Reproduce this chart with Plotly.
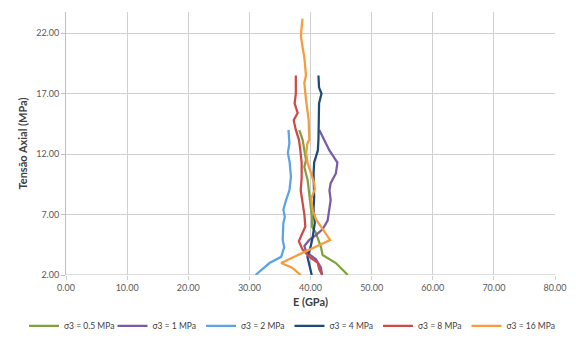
import plotly.graph_objects as go

names = ["σ3 = 0.5 MPa", "σ3 = 1 MPa", "σ3 = 2 MPa", "σ3 = 4 MPa", "σ3 = 8 MPa", "σ3 = 16 MPa"]
colors = ["#7FA23F", "#7A5BA5", "#5CA3E6", "#1F4A78", "#CC4B47", "#F79B3C"]

# each series: stress (MPa) and E (GPa)
s_05 = [2.0, 2.99, 3.65, 4.31, 5.47, 6.0, 6.79, 7.62, 8.45, 9.02, 9.85, 10.93, 11.5, 12.33, 13.16, 13.98]
e_05 = [46.1, 44.15, 41.98, 41.71, 40.89, 40.24, 40.24, 40.08, 39.91, 39.8, 39.53, 38.99, 39.26, 38.99, 38.72, 38.17]

s_1 = [2.0, 2.6, 3.3, 3.9, 4.4, 4.9, 5.3, 5.8, 6.5, 7.4, 8.2, 9.0, 9.6, 10.4, 11.3, 12.3, 13.2, 14.0]
e_1 = [41.9, 41.7, 40.9, 39.3, 39.0, 39.8, 40.9, 42.0, 42.8, 43.1, 43.3, 43.1, 43.3, 44.15, 44.4, 43.1, 42.25, 41.44]

s_2 = [2.0, 2.99, 3.5, 4.3, 4.9, 6.3, 6.8, 7.4, 8.2, 9.0, 10.1, 11.3, 12.1, 12.9, 14.0]
e_2 = [31.0, 33.3, 35.2, 35.7, 35.45, 35.56, 35.8, 35.56, 36.0, 36.55, 36.8, 36.6, 36.3, 36.55, 36.4]

s_4 = [2.0, 2.8, 3.5, 4.3, 5.1, 6.3, 7.5, 8.5, 9.6, 10.4, 11.3, 12.3, 13.2, 14.8, 15.4, 16.2, 17.0, 17.5, 18.5]
e_4 = [40.2, 39.8, 39.5, 40.0, 40.35, 40.7, 40.5, 40.6, 40.5, 40.5, 40.6, 41.2, 41.3, 41.3, 41.4, 41.4, 41.8, 41.4, 41.3]

s_8 = [2.0, 2.5, 3.0, 3.5, 4.1, 4.8, 5.5, 6.0, 7.0, 7.9, 9.0, 10.0, 11.3, 12.5, 13.2, 14.0, 14.8, 15.4, 16.2, 17.0, 18.5]
e_8 = [41.9, 41.4, 41.2, 39.8, 38.7, 38.1, 38.7, 39.15, 39.0, 38.7, 38.4, 38.55, 38.55, 38.3, 38.1, 37.6, 37.25, 37.9, 37.4, 37.6, 37.6]

s_16 = [2.0, 2.6, 3.0, 4.9, 5.8, 6.6, 7.4, 8.3, 9.1, 9.6, 10.4, 11.3, 12.1, 12.9, 13.2, 13.98, 14.8, 16.5, 17.9, 18.5, 20.0, 20.8, 21.7, 22.5, 23.2]
e_16 = [38.4, 37.0, 35.2, 43.2, 42.0, 40.9, 40.35, 40.1, 40.7, 40.6, 40.1, 39.5, 39.3, 39.5, 39.8, 39.7, 39.7, 39.26, 38.99, 39.26, 38.99, 38.72, 38.44, 38.55, 38.7]

series_s = [s_05, s_1, s_2, s_4, s_8, s_16]
series_e = [e_05, e_1, e_2, e_4, e_8, e_16]

x_ticks = [0, 10, 20, 30, 40, 50, 60, 70, 80]
y_ticks = [2, 7, 12, 17, 22]

fig = go.Figure()
for i, (n, c, s, e) in enumerate(zip(names, colors, series_s, series_e)):
    fig.add_trace(go.Scatter(x=e, y=s, mode="lines", name=n,
                             legend="legend" if i < 3 else "legend2",
                             line=dict(color=c, width=2.25)))

font = "Lato, 'Open Sans', sans-serif"
leg_common = dict(orientation="h", xref="container", yref="container",
                  y=0.005, yanchor="bottom", xanchor="left",
                  font=dict(size=8.5, color="#404040"), entrywidth=43.5,
                  itemwidth=30, tracegroupgap=0, bgcolor="rgba(0,0,0,0)")
fig.update_layout(
    width=576, height=342,
    margin=dict(l=66, r=21, t=12, b=67, autoexpand=False),
    paper_bgcolor="white", plot_bgcolor="white",
    font=dict(family=font, size=9, color="#595959"),
    showlegend=True,
    legend=dict(x=24 / 576, **leg_common),
    legend2=dict(x=289.5 / 576, **leg_common),
    xaxis=dict(range=[0, 80], tickvals=x_ticks,
               ticktext=["%.2f" % v for v in x_ticks],
               showgrid=True, gridcolor="#D0D0D0", gridwidth=1,
               zeroline=False, showline=False, ticks="outside",
               ticklen=4, tickcolor="#D0D0D0",
               title=dict(text="<b>E (GPa)</b>", font=dict(size=11, color="#404040"), standoff=6)),
    yaxis=dict(range=[2, 23.75], tickvals=y_ticks,
               ticktext=["%.2f" % v for v in y_ticks],
               showgrid=True, gridcolor="#D0D0D0", gridwidth=1,
               zeroline=False, showline=True, linecolor="#BFBFBF", ticks="outside",
               ticklen=4, tickcolor="#BFBFBF",
               title=dict(text="<b>Tensão Axial (MPa)</b>", font=dict(size=11, color="#404040"), standoff=6)),
)
fig.add_hline(y=2, line=dict(color="#BFBFBF", width=1), layer="below")

fig.write_html("out.html")
